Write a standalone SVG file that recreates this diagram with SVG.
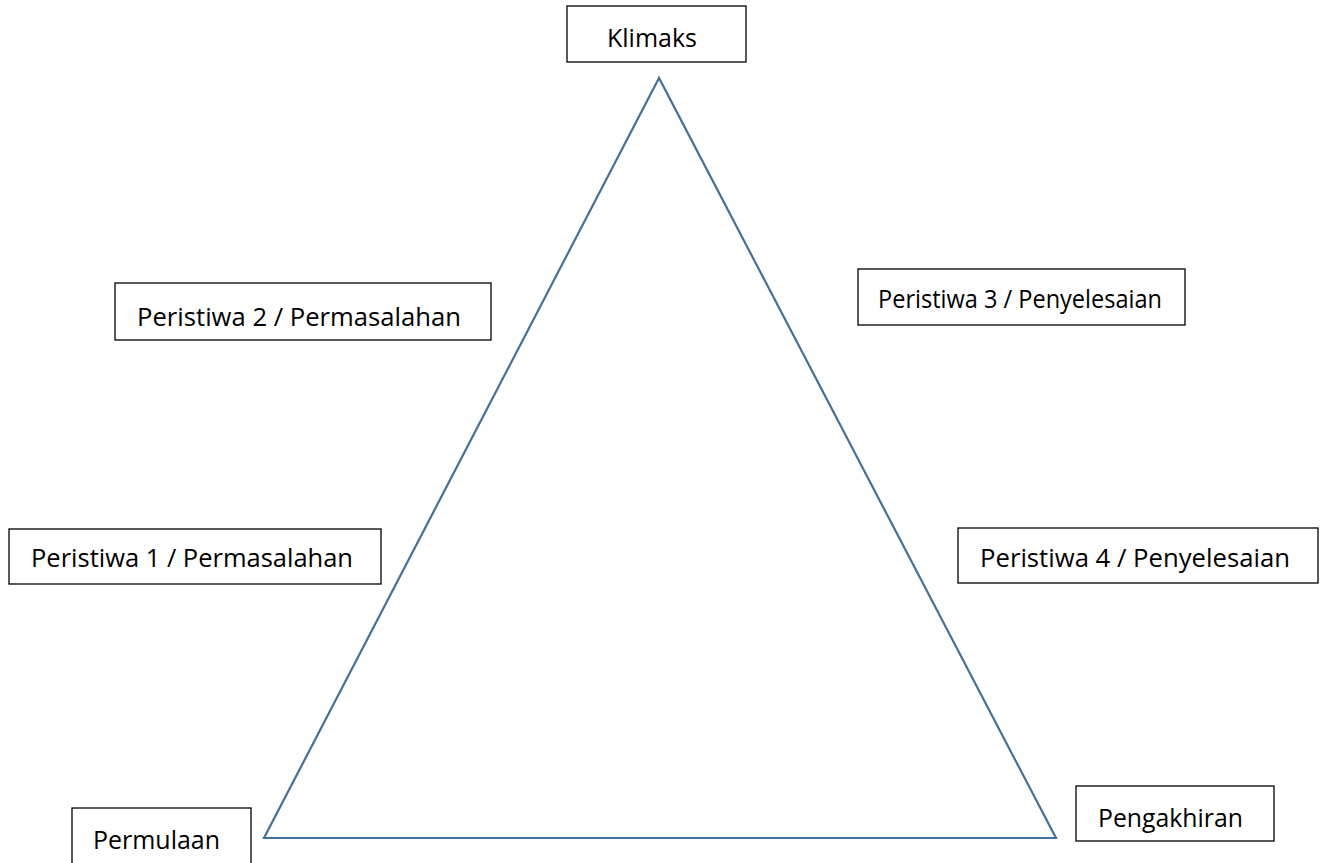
<svg xmlns="http://www.w3.org/2000/svg" width="1320" height="863" viewBox="0 0 1320 863">
<style>
.box{fill:#fff;stroke:#000;stroke-width:1.3}
.lbl{font-family:"Open Sans",Lato,"Liberation Sans",sans-serif;font-size:26px;fill:#000}
.tri{fill:none;stroke:#41719c;stroke-width:2.2;stroke-linejoin:miter}
</style>
<rect width="1320" height="863" fill="#fff"/>
<g id="connectors">
<polygon class="tri" points="659,78 264,838 1056,838"/>
</g>
<g id="klimaks">
<rect class="box" x="567" y="6" width="179" height="56"/>
<text class="lbl" x="607" y="47" textLength="90" lengthAdjust="spacingAndGlyphs">Klimaks</text>
</g>
<g id="peristiwa2">
<rect class="box" x="115" y="283" width="376" height="57"/>
<text class="lbl" x="137" y="326" textLength="324" lengthAdjust="spacingAndGlyphs">Peristiwa 2 / Permasalahan</text>
</g>
<g id="peristiwa3">
<rect class="box" x="858" y="269" width="327" height="56"/>
<text class="lbl" x="878" y="308" textLength="284" lengthAdjust="spacingAndGlyphs">Peristiwa 3 / Penyelesaian</text>
</g>
<g id="peristiwa1">
<rect class="box" x="9" y="529" width="372" height="55"/>
<text class="lbl" x="31" y="567" textLength="322" lengthAdjust="spacingAndGlyphs">Peristiwa 1 / Permasalahan</text>
</g>
<g id="peristiwa4">
<rect class="box" x="958" y="528" width="360" height="55"/>
<text class="lbl" x="980" y="567" textLength="310" lengthAdjust="spacingAndGlyphs">Peristiwa 4 / Penyelesaian</text>
</g>
<g id="permulaan">
<rect class="box" x="72" y="808" width="179" height="60"/>
<text class="lbl" x="93" y="849" textLength="127" lengthAdjust="spacingAndGlyphs">Permulaan</text>
</g>
<g id="pengakhiran">
<rect class="box" x="1076" y="786" width="198" height="55"/>
<text class="lbl" x="1098" y="827" textLength="145" lengthAdjust="spacingAndGlyphs">Pengakhiran</text>
</g>
</svg>
